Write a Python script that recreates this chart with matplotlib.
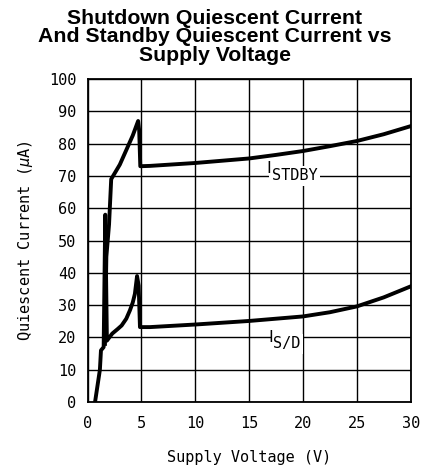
import matplotlib
matplotlib.use('Agg')
import matplotlib.pyplot as plt
import numpy as np

# shutdown quiescent current, I_S/D
vs_sd = [0.7, 1.15, 1.25, 1.5, 1.65, 1.8, 2.3, 2.8, 3.17, 3.6, 3.94, 4.2, 4.4, 4.6, 4.75, 4.87,
         5.8, 10, 15, 20, 22.5, 25, 27.5, 30]
iq_sd = [0, 10, 16, 17, 58, 19, 21.2, 22.6, 23.7, 25.8, 28.4, 30.8, 33.5, 39, 36, 23.2,
         23.2, 24.0, 25.1, 26.5, 27.8, 29.6, 32.4, 35.8]

# standby quiescent current, I_STDBY
vs_stdby = [1.62, 1.75, 2.0, 2.2, 3.0, 3.6, 4.2, 4.7, 4.8, 4.9, 5.8, 10, 15, 17.5, 20,
            22.5, 25, 27.5, 30]
iq_stdby = [18, 45, 55, 69, 73.5, 78, 82.5, 87, 84, 73, 73.1, 74.0, 75.4, 76.5, 77.7,
            79.2, 80.8, 82.9, 85.4]

x_ticks = [0, 5, 10, 15, 20, 25, 30]
y_ticks = [0, 10, 20, 30, 40, 50, 60, 70, 80, 90, 100]

MONO = 'DejaVu Sans Mono'


def curve_label(ax, x, y, sub, dy):
    box = dict(facecolor='white', edgecolor='none', pad=2)
    ax.text(x + 0.25, y - dy, sub, family=MONO, fontsize=11, ha='left', va='center',
            bbox=box, zorder=2.5)
    ax.text(x, y, 'I', family='DejaVu Sans', fontsize=11.5, ha='center', va='center',
            zorder=2.7)


def main():
    plt.rcParams['mathtext.fontset'] = 'custom'
    plt.rcParams['mathtext.rm'] = MONO
    plt.rcParams['mathtext.it'] = MONO + ':italic'

    fig = plt.figure(figsize=(4.3, 4.73), dpi=100)
    ax = fig.add_axes([0.2035, 0.150, 0.7515, 0.683])

    ax.plot(vs_sd, iq_sd, color='black', lw=2.8, zorder=3)
    ax.plot(vs_stdby, iq_stdby, color='black', lw=2.8, zorder=3)

    ax.set_xlim(0, 30)
    ax.set_ylim(0, 100)
    ax.set_xticks(x_ticks)
    ax.set_yticks(y_ticks)
    ax.grid(True, color='black', lw=1.0)
    ax.set_axisbelow(True)
    for s in ax.spines.values():
        s.set_linewidth(1.3)
    ax.tick_params(length=0)
    ax.tick_params(axis='x', pad=10)
    ax.tick_params(axis='y', pad=8)
    for lab in ax.get_xticklabels() + ax.get_yticklabels():
        lab.set_family(MONO)
        lab.set_fontsize(11)

    ax.set_xlabel('Supply Voltage (V)', family=MONO, fontsize=11, labelpad=14)
    ax.set_ylabel('Quiescent Current ($\\mu$A)', family=MONO, fontsize=11, labelpad=10)

    curve_label(ax, 16.85, 72.2, 'STDBY', 2.2)
    curve_label(ax, 17.0, 20.1, 'S/D', 2.1)

    fig.text(0.5, 0.922, 'Shutdown Quiescent Current\nAnd Standby Quiescent Current vs\nSupply Voltage',
             ha='center', va='center', family='Liberation Sans', weight='bold',
             fontsize=15.3, linespacing=0.98)

    fig.savefig('out.png', dpi=100)


if __name__ == '__main__':
    main()
